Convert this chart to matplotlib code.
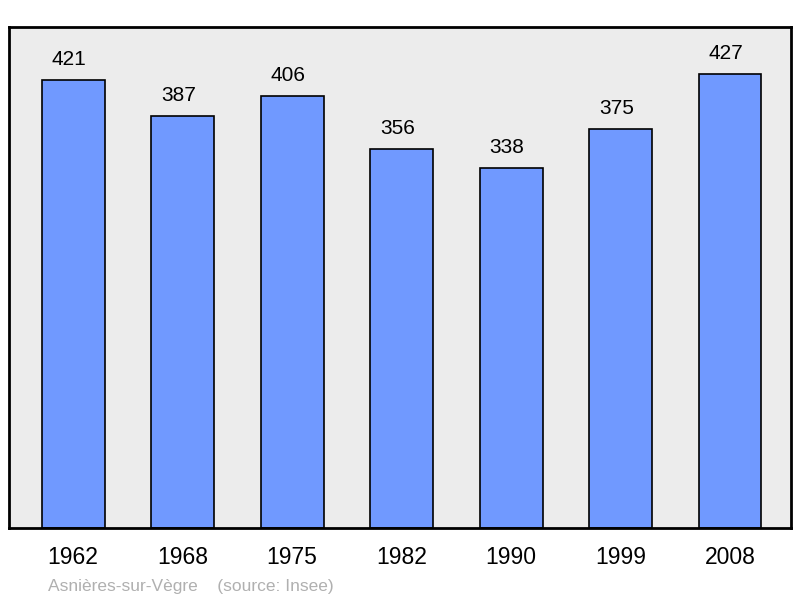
import matplotlib.pyplot as plt

years = ['1962', '1968', '1975', '1982', '1990', '1999', '2008']
population = [421, 387, 406, 356, 338, 375, 427]
commune = 'Asnières-sur-Vègre'
source = '(source: Insee)'

plt.rcParams['font.family'] = ['Liberation Sans', 'DejaVu Sans']

fig = plt.figure(figsize=(8, 5.98), dpi=100)
ax = fig.add_axes([0.01125, 0.1171, 0.9775, 0.8378])
ax.set_facecolor('#ececec')

x = range(len(years))
ax.bar(x, population, width=0.575, color='#7099ff', edgecolor='black', linewidth=1.2)
for xi, v in zip(x, population):
    ax.annotate(str(v), (xi, v), xytext=(-3, 8), textcoords='offset points',
                ha='center', va='bottom', fontsize=15)

ax.set_xlim(-0.585, 6.557)
ax.set_ylim(0, 471)
ax.set_yticks([])
ax.set_xticks(list(x))
ax.set_xticklabels(years, fontsize=16.5)
ax.tick_params(axis='x', length=0, pad=13)
for s in ax.spines.values():
    s.set_linewidth(2)

fig.text(0.06, 0.012, commune + '    ' + source, color='#b0b0b0', fontsize=12.5)

plt.savefig('out.png')
